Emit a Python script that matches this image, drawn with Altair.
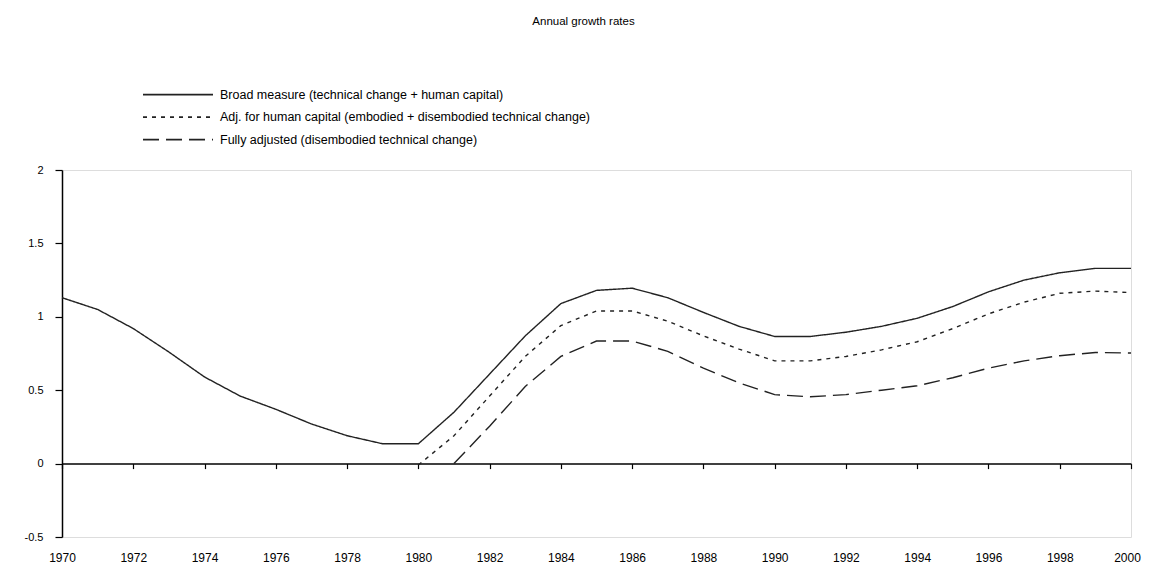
import altair as alt
import pandas as pd

# ---- data ----
series_names = [
    "Broad measure (technical change + human capital)",
    "Adj. for human capital (embodied + disembodied technical change)",
    "Fully adjusted (disembodied technical change)",
]

broad_years = list(range(1970, 2001))
broad = [1.13, 1.05, 0.92, 0.76, 0.59, 0.46, 0.37, 0.27, 0.19, 0.135,
         0.135, 0.35, 0.61, 0.87, 1.09, 1.18, 1.195, 1.13, 1.03, 0.935,
         0.866, 0.866, 0.895, 0.935, 0.99, 1.07, 1.17, 1.25, 1.30, 1.33, 1.33]

adj_years = list(range(1980, 2001))
adj = [-0.01, 0.19, 0.46, 0.73, 0.94, 1.04, 1.04, 0.97, 0.87, 0.78,
       0.70, 0.70, 0.73, 0.775, 0.83, 0.92, 1.02, 1.10, 1.16, 1.175, 1.165]

full_years = list(range(1981, 2001))
full = [0.0, 0.255, 0.525, 0.73, 0.835, 0.835, 0.765, 0.65, 0.55, 0.47,
        0.455, 0.47, 0.50, 0.53, 0.585, 0.65, 0.70, 0.735, 0.757, 0.753]

x_ticks = list(range(1970, 2001, 2))
y_ticks = [-0.5, 0, 0.5, 1, 1.5, 2]
title_text = "Annual growth rates"

rows = []
for name, ys, vs in zip(series_names, [broad_years, adj_years, full_years], [broad, adj, full]):
    for yr, v in zip(ys, vs):
        rows.append({"year": yr, "value": v, "series": name})
df = pd.DataFrame(rows)

FONT = "Liberation Sans"
W, H = 1069, 367
zero_offset = -H * 0.5 / 2.5  # move x axis line up to value 0

chart = alt.Chart(df).mark_line(color="#222222", strokeWidth=1.4).encode(
    x=alt.X("year:Q",
            scale=alt.Scale(domain=[1970, 2000], nice=False, zero=False),
            axis=alt.Axis(values=x_ticks, format="d", title=None, grid=False,
                          offset=zero_offset, tickSize=5, tickWidth=1.2,
                          tickColor="black", domainColor="black", domainWidth=1.5,
                          labelPadding=84, labelFont=FONT, labelFontSize=12,
                          labelColor="black", labelFlush=False,
                          labelOffset={"condition": {"test": "datum.value == 2000", "value": -4},
                                       "value": 0})),
    y=alt.Y("value:Q",
            scale=alt.Scale(domain=[-0.5, 2], nice=False, zero=False),
            axis=alt.Axis(values=y_ticks, title=None, grid=False,
                          tickSize=7, tickWidth=1.2, tickColor="black",
                          domainColor="black", domainWidth=1.5,
                          labelPadding=12, labelFont=FONT, labelFontSize=11,
                          labelColor="black",
                          labelExpr="replace(format(datum.value, '.1~f'), '\u2212', '-')")),
    strokeDash=alt.StrokeDash(
        "series:N", sort=series_names,
        scale=alt.Scale(domain=series_names, range=[[1, 0], [4, 5], [16, 7]]),
        legend=alt.Legend(title=None, orient="none", legendX=108, legendY=-83.3,
                          direction="vertical", symbolType="M-5,0H5",
                          symbolSize=196, symbolStrokeWidth=1.8,
                          symbolStrokeColor="#222222", symbolFillColor="transparent",
                          labelFont=FONT, labelFontSize=12.5, labelColor="black",
                          labelOffset=34, rowPadding=7.5, padding=0, labelLimit=0)),
).properties(
    width=W, height=H,
    title=alt.Title(title_text, font=FONT, fontSize=11.5, fontWeight="normal",
                    color="black", anchor="middle", dx=-13, offset=59),
    autosize=alt.AutoSizeParams(type="none"),
    padding={"left": 54, "top": 162, "right": 11, "bottom": 30},
).configure_view(
    stroke="black", strokeWidth=1.5
).configure(
    background="white"
)

chart.save("out.html", embed_options={"renderer": "svg", "actions": False})
